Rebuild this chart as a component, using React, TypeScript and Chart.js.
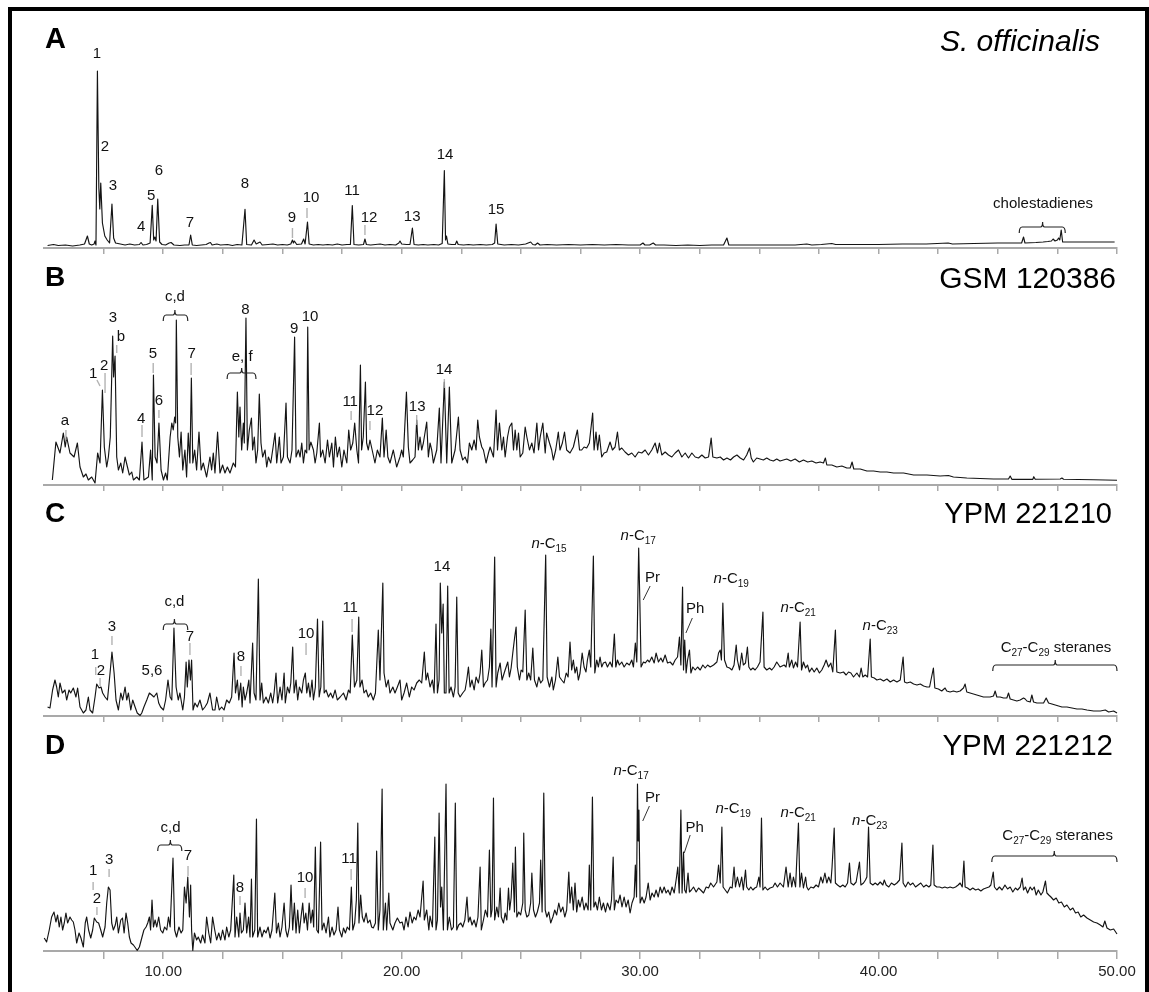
import { useEffect, useRef } from "react";
import { Chart, registerables } from "chart.js";

Chart.register(...registerables);

const FONT = '"Liberation Sans", Arial, Helvetica, sans-serif';
const AXIS = "#a9a9a9";
const X_MIN = 5;
const X_MAX = 50;
const X_STEP = 2.5;
const Y_TOP = 226;

type Pt = [number, number];
// [text, retention time, height]
type Note = [string, number, number];
// [t1, y1, t2, y2]
type Lead = [number, number, number, number];
// [t start, t end, height, t centre]
type Brace = [number, number, number, number];

// ---- A: S. officinalis (retention time in min, detector response) ----
const traceA: Pt[] = [
  [5.15, 2.5], [5.4, 3.5], [5.6, 2.5], [5.9, 3], [6.2, 2], [6.5, 3], [6.7, 4], [6.82, 12], [6.9, 4], [7.0, 3], [7.1, 4], [7.14, 7], [7.18, 3],
  [7.24, 177], [7.3, 60], [7.34, 39], [7.38, 65], [7.45, 25], [7.55, 12], [7.65, 8], [7.75, 5], [7.85, 44], [7.92, 10], [8.0, 5], [8.2, 4],
  [8.4, 3], [8.6, 4], [8.8, 3], [9.0, 3.5], [9.07, 5.5], [9.15, 3], [9.3, 3.5], [9.45, 5], [9.54, 42.6], [9.6, 8], [9.65, 11], [9.7, 7],
  [9.77, 49], [9.85, 6], [9.95, 3.5], [10.1, 3], [10.25, 5], [10.33, 5.5], [10.45, 3], [10.7, 2.5], [10.9, 3], [11.08, 3], [11.15, 13],
  [11.22, 3], [11.4, 2.5], [11.6, 3], [11.8, 3.5], [11.92, 5], [11.98, 5.5], [12.05, 3], [12.25, 4], [12.4, 3], [12.7, 3.5], [12.9, 2.5],
  [13.1, 3.5], [13.3, 3], [13.43, 38.7], [13.5, 3.5], [13.7, 3], [13.81, 8], [13.9, 4], [14.06, 6], [14.15, 3], [14.4, 3.5], [14.6, 4],
  [14.8, 3], [15.0, 3.5], [15.2, 3], [15.35, 4], [15.42, 8], [15.46, 5], [15.5, 7], [15.6, 3.5], [15.8, 4], [15.89, 9], [15.95, 4],
  [16.05, 26], [16.12, 4], [16.3, 3], [16.5, 3.5], [16.7, 3], [16.9, 3.5], [17.1, 3], [17.3, 4], [17.5, 3], [17.7, 3.5], [17.85, 3.5],
  [17.93, 42.5], [18.0, 3.5], [18.2, 3], [18.4, 3.5], [18.46, 9], [18.52, 3.5], [18.7, 3], [18.9, 3.5], [19.1, 4], [19.3, 3], [19.5, 3.5],
  [19.75, 3], [19.88, 5], [19.93, 7], [20.0, 4], [20.2, 3.5], [20.35, 3.5], [20.45, 20], [20.52, 3.5], [20.7, 3], [20.9, 3.5], [21.1, 3],
  [21.35, 3.5], [21.55, 3], [21.7, 4.5], [21.79, 77.5], [21.84, 8], [21.88, 12], [21.94, 4], [22.1, 3.5], [22.25, 3.5], [22.31, 7],
  [22.37, 3.5], [22.6, 3], [22.8, 3.5], [23.0, 3], [23.3, 3.5], [23.55, 3], [23.8, 3.5], [23.9, 5], [23.96, 24], [24.03, 4], [24.3, 3],
  [24.6, 3.5], [24.9, 3], [25.2, 4], [25.41, 6], [25.5, 3.5], [25.6, 3], [25.7, 5], [25.8, 3], [26.1, 3.5], [26.5, 3], [27.0, 3.5],
  [27.5, 3], [28.0, 3.5], [28.5, 3], [29.0, 3.5], [29.5, 3], [30.0, 3], [30.12, 5], [30.2, 3], [30.4, 3], [30.55, 5], [30.65, 3],
  [31.0, 3], [31.5, 2.5], [32.0, 3], [32.5, 2.5], [33.0, 3], [33.5, 3], [33.64, 10], [33.72, 3], [34.2, 3], [35.0, 3], [35.5, 3],
  [36.0, 3], [36.5, 3], [36.99, 4], [37.2, 3], [37.6, 3.5], [38.04, 4.5], [38.2, 3.5], [39.0, 3.5], [40.0, 3.5], [41.0, 4], [42.0, 4],
  [42.92, 5], [43.1, 4], [44.0, 4.5], [45.0, 5], [46.0, 5], [46.08, 11], [46.14, 5], [46.6, 5.5], [46.9, 6], [47.1, 6.5], [47.25, 7],
  [47.32, 9], [47.4, 7], [47.5, 8], [47.55, 10], [47.6, 8], [47.66, 18], [47.72, 6], [48.0, 6], [49.0, 6], [49.9, 6],
];

// ---- B: GSM 120386 ----
const traceB: Pt[] = [
  [5.35, 5], [5.5, 43], [5.67, 32], [5.81, 52], [5.89, 38], [5.95, 48], [6.09, 32], [6.26, 28], [6.4, 42], [6.51, 18], [6.65, 8],
  [6.76, 11], [6.86, 5], [7.0, 8], [7.14, 2], [7.25, 32], [7.35, 22], [7.45, 95], [7.53, 38], [7.63, 18], [7.7, 28], [7.78, 48],
  [7.88, 149], [7.92, 108], [7.98, 129], [8.05, 28], [8.12, 15], [8.22, 22], [8.3, 12], [8.4, 28], [8.5, 18], [8.58, 10], [8.68, 13],
  [8.75, 5], [8.89, 8], [9.0, 5], [9.11, 43], [9.19, 5], [9.38, 8], [9.47, 35], [9.54, 5], [9.59, 110], [9.66, 28], [9.74, 22],
  [9.82, 62], [9.91, 15], [10.01, 5], [10.1, 12], [10.17, 5], [10.29, 48], [10.36, 62], [10.42, 55], [10.48, 68], [10.52, 62],
  [10.55, 165], [10.61, 48], [10.68, 28], [10.75, 53], [10.82, 15], [10.91, 35], [10.98, 8], [11.05, 52], [11.12, 22], [11.18, 107],
  [11.24, 22], [11.32, 35], [11.4, 15], [11.5, 53], [11.59, 15], [11.68, 22], [11.75, 15], [11.82, 8], [11.96, 28], [12.03, 15],
  [12.1, 32], [12.17, 12], [12.28, 53], [12.38, 12], [12.49, 20], [12.59, 12], [12.69, 18], [12.8, 12], [12.94, 22], [13.03, 18],
  [13.11, 93], [13.17, 48], [13.22, 78], [13.29, 35], [13.36, 62], [13.4, 42], [13.47, 167], [13.53, 35], [13.61, 55], [13.7, 67],
  [13.75, 35], [13.82, 48], [13.89, 22], [13.96, 35], [14.03, 91], [14.1, 42], [14.17, 28], [14.27, 35], [14.34, 18], [14.41, 28],
  [14.51, 22], [14.59, 35], [14.69, 52], [14.76, 22], [14.87, 48], [14.94, 22], [15.04, 28], [15.15, 82], [15.21, 28], [15.32, 22],
  [15.4, 35], [15.51, 148], [15.57, 28], [15.67, 35], [15.74, 28], [15.81, 42], [15.88, 22], [15.95, 35], [16.02, 32], [16.06, 158],
  [16.12, 35], [16.19, 43], [16.3, 35], [16.37, 22], [16.44, 32], [16.55, 62], [16.6, 28], [16.69, 35], [16.79, 22], [16.89, 45],
  [16.97, 28], [17.07, 42], [17.14, 18], [17.22, 48], [17.3, 28], [17.39, 38], [17.49, 18], [17.58, 35], [17.7, 22], [17.78, 55],
  [17.86, 35], [17.95, 42], [18.03, 62], [18.12, 35], [18.19, 22], [18.27, 120], [18.32, 35], [18.39, 48], [18.48, 103], [18.53, 42],
  [18.6, 35], [18.67, 45], [18.79, 32], [18.88, 22], [18.98, 35], [19.09, 28], [19.19, 67], [19.26, 28], [19.35, 55], [19.42, 28],
  [19.51, 22], [19.65, 35], [19.79, 18], [19.93, 28], [20.0, 35], [20.07, 28], [20.2, 93], [20.28, 38], [20.35, 22], [20.46, 25],
  [20.56, 28], [20.63, 65], [20.7, 35], [20.77, 48], [20.84, 35], [20.91, 42], [21.05, 63], [21.12, 28], [21.19, 42], [21.26, 35],
  [21.33, 22], [21.47, 35], [21.58, 77], [21.65, 22], [21.79, 103], [21.89, 22], [22.0, 98], [22.1, 22], [22.24, 35], [22.38, 68],
  [22.45, 35], [22.56, 25], [22.66, 28], [22.76, 22], [22.84, 42], [22.94, 35], [23.04, 45], [23.12, 35], [23.19, 65], [23.26, 48],
  [23.36, 38], [23.43, 35], [23.54, 22], [23.64, 32], [23.71, 38], [23.85, 28], [23.96, 75], [24.02, 35], [24.1, 62], [24.2, 35],
  [24.27, 48], [24.34, 28], [24.44, 48], [24.52, 58], [24.62, 62], [24.69, 35], [24.76, 55], [24.83, 35], [24.9, 52], [24.97, 28],
  [25.08, 32], [25.18, 58], [25.25, 48], [25.36, 35], [25.46, 42], [25.55, 32], [25.67, 62], [25.74, 35], [25.81, 48], [25.92, 62],
  [26.02, 32], [26.08, 52], [26.2, 42], [26.29, 35], [26.36, 25], [26.46, 35], [26.57, 53], [26.64, 35], [26.74, 42], [26.83, 53],
  [26.92, 35], [27.06, 32], [27.2, 38], [27.27, 45], [27.37, 55], [27.46, 35], [27.55, 35], [27.65, 38], [27.76, 37], [27.87, 42],
  [28.01, 72], [28.07, 35], [28.15, 53], [28.22, 35], [28.29, 50], [28.39, 28], [28.49, 32], [28.6, 33], [28.74, 43], [28.84, 35],
  [28.95, 38], [29.05, 53], [29.13, 35], [29.23, 37], [29.37, 33], [29.51, 30], [29.65, 32], [29.79, 28], [29.93, 33], [30.07, 32],
  [30.21, 35], [30.35, 30], [30.49, 35], [30.63, 42], [30.73, 32], [30.81, 42], [30.91, 30], [31.05, 33], [31.19, 30], [31.33, 28],
  [31.47, 32], [31.61, 35], [31.75, 28], [31.89, 32], [32.03, 27], [32.17, 32], [32.31, 28], [32.45, 27], [32.59, 30], [32.73, 27],
  [32.87, 28], [32.98, 47], [33.05, 28], [33.22, 27], [33.36, 28], [33.5, 25], [33.64, 27], [33.79, 25], [33.92, 28], [34.06, 30],
  [34.2, 27], [34.34, 25], [34.47, 30], [34.59, 37], [34.66, 27], [34.75, 23], [34.89, 27], [35.03, 26], [35.17, 25], [35.31, 27],
  [35.45, 25], [35.59, 24], [35.73, 26], [35.87, 24], [36.01, 25], [36.15, 26], [36.32, 24], [36.5, 26], [36.68, 23], [36.85, 25],
  [37.03, 23], [37.2, 24], [37.38, 22], [37.55, 23], [37.69, 22], [37.77, 27], [37.83, 20], [38.04, 20], [38.25, 18], [38.46, 19],
  [38.67, 17], [38.81, 17], [38.89, 23], [38.96, 16], [39.23, 16], [39.51, 14], [39.79, 14], [40.07, 13], [40.35, 13], [40.63, 12],
  [41.05, 12], [41.47, 10], [42.03, 10], [42.58, 9], [42.93, 9.5], [43.14, 8], [43.7, 7], [44.26, 6.5], [44.82, 6], [45.45, 6],
  [45.52, 9], [45.59, 5.7], [46.22, 5.7], [46.47, 5.7], [46.51, 8.3], [46.57, 5.7], [47.62, 6], [47.69, 7], [47.76, 5.7], [49.02, 5.3],
  [50.0, 4.8],
];

// ---- C: YPM 221210 ----
const traceC: Pt[] = [
  [5.15, 9], [5.25, 8], [5.36, 26], [5.46, 36], [5.53, 29], [5.6, 19], [5.67, 33], [5.77, 23], [5.88, 26], [5.95, 16], [6.05, 26],
  [6.12, 23], [6.23, 28], [6.34, 19], [6.41, 28], [6.51, 9], [6.58, 6], [6.65, 3], [6.76, 6], [6.86, 19], [6.93, 6], [7.04, 3],
  [7.14, 19], [7.21, 32], [7.31, 28], [7.39, 29], [7.46, 23], [7.56, 19], [7.66, 16], [7.77, 43], [7.85, 64], [7.94, 43], [8.02, 16],
  [8.12, 6], [8.22, 23], [8.3, 16], [8.4, 29], [8.47, 16], [8.54, 23], [8.64, 6], [8.72, 16], [8.82, 9], [8.91, 3], [9.03, 0.5],
  [9.1, 3], [9.19, 9], [9.31, 16], [9.42, 23], [9.52, 21], [9.61, 19], [9.73, 23], [9.81, 13], [9.89, 9], [10.01, 6], [10.1, 16],
  [10.2, 36], [10.29, 19], [10.36, 16], [10.45, 88], [10.54, 29], [10.63, 16], [10.7, 23], [10.82, 6], [10.89, 19], [10.96, 54],
  [11.01, 29], [11.08, 56], [11.14, 36], [11.19, 56], [11.25, 6], [11.33, 13], [11.43, 9], [11.54, 16], [11.65, 6], [11.75, 9],
  [11.85, 13], [11.96, 23], [12.07, 6], [12.17, 6], [12.24, 19], [12.35, 6], [12.45, 9], [12.55, 6], [12.66, 16], [12.77, 13],
  [12.87, 19], [12.97, 63], [13.03, 23], [13.11, 36], [13.17, 16], [13.25, 33], [13.31, 9], [13.36, 29], [13.43, 16], [13.5, 23],
  [13.59, 36], [13.64, 13], [13.75, 73], [13.81, 23], [13.89, 16], [13.99, 137], [14.06, 16], [14.13, 33], [14.2, 13], [14.31, 19],
  [14.41, 13], [14.51, 23], [14.59, 13], [14.65, 23], [14.73, 43], [14.8, 13], [14.9, 29], [14.98, 16], [15.07, 43], [15.12, 13],
  [15.21, 29], [15.29, 23], [15.35, 33], [15.43, 69], [15.49, 23], [15.57, 36], [15.64, 16], [15.71, 29], [15.81, 23], [15.88, 36],
  [15.96, 43], [16.02, 23], [16.09, 33], [16.16, 19], [16.24, 36], [16.3, 16], [16.38, 29], [16.47, 97], [16.54, 19], [16.61, 29],
  [16.69, 95], [16.75, 23], [16.83, 26], [16.93, 19], [17.02, 23], [17.11, 18], [17.21, 26], [17.3, 16], [17.42, 19], [17.56, 23],
  [17.67, 16], [17.77, 26], [17.84, 23], [17.93, 81], [18.02, 29], [18.12, 36], [18.2, 99], [18.25, 29], [18.34, 36], [18.42, 23],
  [18.51, 26], [18.6, 19], [18.7, 23], [18.81, 16], [18.9, 23], [19.02, 86], [19.09, 36], [19.21, 133], [19.26, 43], [19.35, 29],
  [19.44, 36], [19.51, 23], [19.63, 29], [19.72, 23], [19.82, 29], [19.93, 36], [20.0, 16], [20.1, 23], [20.21, 33], [20.32, 19],
  [20.42, 29], [20.52, 26], [20.63, 33], [20.74, 36], [20.84, 33], [20.95, 64], [21.02, 36], [21.09, 43], [21.19, 29], [21.29, 36],
  [21.36, 23], [21.44, 92], [21.5, 23], [21.57, 36], [21.62, 133], [21.68, 83], [21.74, 112], [21.79, 23], [21.86, 23], [21.93, 130],
  [21.99, 23], [22.07, 29], [22.17, 19], [22.24, 29], [22.31, 119], [22.37, 23], [22.45, 19], [22.56, 23], [22.66, 26], [22.73, 36],
  [22.8, 49], [22.87, 29], [22.95, 36], [23.04, 26], [23.12, 39], [23.22, 33], [23.29, 43], [23.36, 66], [23.43, 29], [23.5, 33],
  [23.6, 36], [23.68, 49], [23.74, 87], [23.79, 29], [23.9, 159], [23.96, 29], [24.03, 43], [24.13, 53], [24.21, 36], [24.3, 43],
  [24.38, 49], [24.45, 54], [24.52, 39], [24.59, 48], [24.66, 63], [24.74, 79], [24.8, 89], [24.85, 49], [24.94, 36], [25.01, 46],
  [25.08, 44], [25.18, 106], [25.25, 36], [25.33, 43], [25.41, 36], [25.5, 68], [25.57, 36], [25.67, 29], [25.75, 39], [25.83, 33],
  [25.92, 36], [26.04, 161], [26.1, 39], [26.2, 29], [26.3, 39], [26.36, 26], [26.45, 36], [26.55, 59], [26.62, 39], [26.71, 36],
  [26.81, 33], [26.9, 43], [26.98, 39], [27.06, 74], [27.13, 46], [27.2, 56], [27.27, 43], [27.34, 49], [27.41, 36], [27.48, 43],
  [27.57, 63], [27.65, 49], [27.73, 44], [27.79, 56], [27.87, 66], [27.93, 49], [28.04, 160], [28.1, 43], [28.18, 56], [28.25, 49],
  [28.32, 59], [28.39, 49], [28.46, 53], [28.55, 54], [28.63, 49], [28.74, 54], [28.83, 49], [28.92, 82], [28.98, 49], [29.05, 56],
  [29.13, 51], [29.23, 54], [29.33, 49], [29.44, 53], [29.55, 51], [29.65, 56], [29.72, 49], [29.8, 73], [29.86, 54], [29.94, 168],
  [29.99, 113], [30.04, 49], [30.14, 54], [30.22, 53], [30.31, 56], [30.39, 54], [30.49, 59], [30.59, 53], [30.67, 63], [30.77, 54],
  [30.87, 58], [30.95, 54], [31.05, 61], [31.15, 53], [31.26, 54], [31.37, 51], [31.47, 56], [31.57, 59], [31.65, 79], [31.71, 51],
  [31.78, 129], [31.82, 46], [31.87, 76], [31.93, 43], [31.99, 56], [32.07, 66], [32.13, 43], [32.21, 49], [32.31, 46], [32.41, 49],
  [32.52, 46], [32.63, 51], [32.73, 48], [32.83, 51], [32.94, 49], [33.08, 51], [33.22, 54], [33.29, 63], [33.36, 66], [33.41, 56],
  [33.47, 113], [33.54, 56], [33.64, 49], [33.75, 48], [33.85, 46], [33.94, 51], [34.03, 71], [34.08, 56], [34.17, 46], [34.26, 63],
  [34.33, 51], [34.42, 53], [34.5, 69], [34.56, 49], [34.64, 46], [34.73, 48], [34.82, 46], [34.92, 49], [35.03, 54], [35.15, 104],
  [35.2, 49], [35.31, 46], [35.43, 48], [35.52, 46], [35.62, 49], [35.73, 54], [35.87, 49], [36.04, 51], [36.12, 49], [36.21, 63],
  [36.26, 49], [36.36, 56], [36.43, 48], [36.52, 54], [36.6, 49], [36.71, 94], [36.77, 46], [36.85, 54], [36.94, 48], [37.02, 51],
  [37.1, 44], [37.2, 48], [37.3, 44], [37.41, 48], [37.52, 43], [37.62, 46], [37.72, 51], [37.8, 56], [37.9, 49], [38.0, 53],
  [38.08, 44], [38.19, 86], [38.25, 44], [38.39, 43], [38.53, 44], [38.64, 41], [38.74, 44], [38.84, 43], [38.95, 39], [39.09, 43],
  [39.2, 39], [39.27, 48], [39.34, 39], [39.44, 41], [39.54, 39], [39.65, 77], [39.7, 39], [39.82, 38], [39.93, 36], [40.07, 37],
  [40.21, 35], [40.35, 37], [40.49, 34], [40.63, 36], [40.77, 34], [40.91, 36], [41.03, 59], [41.09, 34], [41.19, 33], [41.33, 34],
  [41.47, 32], [41.61, 31], [41.75, 32], [41.89, 30], [42.03, 29], [42.14, 29], [42.3, 48], [42.36, 28], [42.51, 27], [42.65, 25],
  [42.79, 28], [42.86, 25], [43.0, 24], [43.14, 25], [43.28, 24], [43.42, 25], [43.56, 28], [43.63, 32], [43.7, 24], [43.84, 23],
  [43.98, 22], [44.12, 21], [44.26, 20], [44.4, 19], [44.54, 19], [44.68, 19], [44.82, 20], [44.89, 25], [44.96, 19], [45.1, 19],
  [45.24, 18], [45.38, 18], [45.45, 23], [45.52, 17], [45.66, 16], [45.8, 15], [45.94, 16], [46.08, 18], [46.15, 17], [46.22, 15],
  [46.36, 14], [46.43, 21], [46.5, 14], [46.64, 13], [46.78, 13], [46.92, 13], [47.03, 18], [47.13, 13], [47.27, 12], [47.41, 11],
  [47.55, 10], [47.69, 9], [47.9, 9], [48.11, 8], [48.32, 7], [48.53, 7], [48.74, 6], [49.02, 5], [49.3, 5], [49.51, 6], [49.65, 4],
  [49.86, 5], [50.0, 3],
];

// ---- D: YPM 221212 ----
const traceD: Pt[] = [
  [5.01, 13], [5.11, 9], [5.22, 21], [5.32, 34], [5.42, 39], [5.5, 29], [5.57, 36], [5.64, 24], [5.71, 34], [5.78, 21], [5.85, 28],
  [5.92, 38], [5.99, 28], [6.09, 34], [6.16, 31], [6.23, 29], [6.3, 21], [6.37, 8], [6.47, 18], [6.55, 13], [6.65, 4], [6.73, 28],
  [6.79, 34], [6.87, 21], [6.96, 13], [7.04, 21], [7.11, 33], [7.21, 29], [7.29, 28], [7.38, 21], [7.46, 14], [7.56, 24], [7.63, 48],
  [7.7, 64], [7.77, 61], [7.84, 28], [7.91, 21], [7.99, 26], [8.05, 34], [8.12, 18], [8.22, 31], [8.29, 33], [8.36, 18], [8.44, 38],
  [8.51, 28], [8.58, 14], [8.65, 8], [8.75, 6], [8.84, 3], [8.91, 0.5], [9.0, 4], [9.1, 13], [9.19, 21], [9.28, 24], [9.35, 28],
  [9.42, 34], [9.47, 21], [9.53, 51], [9.59, 24], [9.66, 31], [9.73, 24], [9.81, 34], [9.89, 21], [9.98, 18], [10.06, 24], [10.15, 21],
  [10.22, 34], [10.29, 24], [10.41, 93], [10.48, 21], [10.56, 14], [10.66, 24], [10.75, 18], [10.82, 21], [10.89, 64], [10.96, 48],
  [11.03, 74], [11.1, 34], [11.15, 66], [11.19, 21], [11.24, 0.5], [11.31, 18], [11.4, 11], [11.47, 14], [11.57, 8], [11.65, 16],
  [11.75, 8], [11.82, 34], [11.91, 18], [11.99, 8], [12.07, 34], [12.16, 21], [12.24, 11], [12.33, 18], [12.41, 11], [12.49, 21],
  [12.59, 11], [12.66, 24], [12.75, 14], [12.83, 21], [12.96, 76], [13.01, 14], [13.08, 34], [13.17, 14], [13.22, 38], [13.28, 18],
  [13.36, 21], [13.43, 48], [13.5, 18], [13.58, 34], [13.64, 14], [13.7, 72], [13.75, 14], [13.84, 21], [13.91, 132], [13.96, 14],
  [14.06, 24], [14.14, 14], [14.23, 21], [14.31, 18], [14.4, 24], [14.48, 13], [14.56, 21], [14.68, 58], [14.75, 18], [14.83, 28],
  [14.9, 14], [14.98, 24], [15.07, 48], [15.14, 21], [15.21, 14], [15.29, 24], [15.36, 66], [15.43, 21], [15.5, 48], [15.57, 18],
  [15.64, 41], [15.71, 18], [15.78, 34], [15.85, 48], [15.91, 28], [15.98, 38], [16.05, 21], [16.12, 48], [16.19, 28], [16.26, 41],
  [16.31, 24], [16.38, 104], [16.44, 21], [16.51, 18], [16.6, 109], [16.66, 21], [16.74, 28], [16.83, 18], [16.93, 34], [16.99, 14],
  [17.08, 24], [17.16, 16], [17.25, 21], [17.33, 44], [17.39, 21], [17.49, 14], [17.56, 23], [17.64, 18], [17.72, 24], [17.81, 21],
  [17.89, 64], [17.95, 21], [18.03, 28], [18.1, 51], [18.16, 128], [18.21, 28], [18.28, 56], [18.35, 34], [18.42, 29], [18.51, 38],
  [18.58, 28], [18.67, 31], [18.74, 24], [18.81, 23], [18.9, 28], [18.95, 100], [19.02, 21], [19.09, 41], [19.18, 162], [19.23, 21],
  [19.32, 48], [19.37, 21], [19.46, 58], [19.51, 28], [19.63, 21], [19.72, 28], [19.82, 33], [19.93, 28], [20.02, 29], [20.1, 21],
  [20.18, 34], [20.27, 24], [20.35, 39], [20.44, 28], [20.52, 34], [20.6, 31], [20.69, 41], [20.77, 34], [20.9, 70], [20.95, 31],
  [21.05, 41], [21.14, 21], [21.19, 35], [21.29, 24], [21.39, 114], [21.44, 21], [21.5, 31], [21.57, 138], [21.63, 44], [21.68, 64],
  [21.75, 21], [21.86, 167], [21.92, 21], [22.0, 34], [22.09, 21], [22.17, 24], [22.25, 148], [22.31, 21], [22.39, 26], [22.48, 28],
  [22.56, 24], [22.65, 31], [22.74, 54], [22.8, 29], [22.87, 34], [22.95, 26], [23.04, 31], [23.12, 24], [23.2, 34], [23.29, 84],
  [23.34, 21], [23.43, 31], [23.51, 41], [23.6, 34], [23.68, 101], [23.74, 34], [23.79, 41], [23.85, 153], [23.9, 31], [23.99, 44],
  [24.06, 34], [24.13, 63], [24.18, 34], [24.27, 28], [24.34, 38], [24.41, 31], [24.48, 63], [24.53, 41], [24.59, 53], [24.66, 88],
  [24.73, 39], [24.77, 104], [24.83, 34], [24.91, 39], [24.99, 36], [25.08, 48], [25.12, 118], [25.18, 41], [25.25, 34], [25.33, 36],
  [25.41, 48], [25.46, 78], [25.53, 41], [25.61, 34], [25.69, 39], [25.78, 48], [25.83, 91], [25.89, 39], [25.96, 158], [26.02, 41],
  [26.09, 34], [26.17, 39], [26.25, 28], [26.34, 34], [26.42, 41], [26.5, 36], [26.59, 48], [26.67, 39], [26.76, 44], [26.84, 34],
  [26.92, 41], [27.01, 79], [27.06, 48], [27.13, 64], [27.2, 41], [27.27, 68], [27.34, 39], [27.41, 51], [27.48, 44], [27.57, 54],
  [27.65, 41], [27.73, 48], [27.82, 41], [27.87, 86], [27.93, 41], [28.0, 154], [28.06, 44], [28.13, 49], [28.21, 41], [28.29, 54],
  [28.38, 41], [28.46, 48], [28.55, 39], [28.63, 48], [28.74, 41], [28.8, 51], [28.87, 94], [28.92, 41], [28.99, 51], [29.08, 48],
  [29.16, 56], [29.24, 44], [29.33, 54], [29.41, 44], [29.5, 51], [29.58, 38], [29.66, 48], [29.75, 54], [29.8, 86], [29.85, 54],
  [29.89, 167], [29.92, 110], [29.95, 141], [30.0, 48], [30.08, 54], [30.17, 48], [30.25, 54], [30.34, 68], [30.42, 51], [30.5, 58],
  [30.59, 54], [30.67, 61], [30.76, 54], [30.84, 64], [30.92, 58], [31.01, 64], [31.09, 58], [31.17, 61], [31.26, 56], [31.34, 64],
  [31.43, 58], [31.51, 71], [31.58, 84], [31.64, 58], [31.71, 141], [31.76, 58], [31.82, 99], [31.87, 61], [31.93, 58], [32.01, 78],
  [32.07, 59], [32.15, 61], [32.24, 64], [32.35, 59], [32.45, 63], [32.54, 61], [32.66, 58], [32.77, 64], [32.87, 63], [32.96, 68],
  [33.08, 64], [33.22, 69], [33.29, 86], [33.36, 68], [33.43, 124], [33.48, 64], [33.57, 61], [33.66, 58], [33.78, 64], [33.86, 63],
  [33.94, 84], [34.0, 64], [34.08, 74], [34.17, 64], [34.26, 74], [34.33, 61], [34.42, 81], [34.47, 64], [34.56, 61], [34.64, 64],
  [34.73, 61], [34.81, 63], [34.89, 64], [34.98, 74], [35.03, 64], [35.09, 133], [35.15, 61], [35.24, 64], [35.34, 61], [35.45, 63],
  [35.57, 64], [35.66, 68], [35.76, 64], [35.87, 68], [36.01, 64], [36.12, 84], [36.21, 64], [36.29, 78], [36.36, 64], [36.43, 74],
  [36.52, 64], [36.64, 128], [36.7, 64], [36.77, 78], [36.85, 63], [36.94, 74], [36.99, 64], [37.06, 61], [37.16, 64], [37.27, 63],
  [37.38, 66], [37.48, 64], [37.58, 74], [37.66, 68], [37.75, 78], [37.83, 68], [37.91, 74], [38.0, 68], [38.05, 84], [38.14, 123],
  [38.19, 68], [38.28, 66], [38.39, 64], [38.5, 66], [38.6, 64], [38.7, 68], [38.78, 88], [38.84, 68], [38.95, 66], [39.06, 69],
  [39.2, 89], [39.26, 66], [39.37, 68], [39.45, 71], [39.51, 74], [39.58, 124], [39.65, 68], [39.76, 66], [39.86, 68], [39.96, 66],
  [40.07, 69], [40.18, 66], [40.24, 71], [40.32, 66], [40.43, 64], [40.54, 68], [40.66, 66], [40.77, 68], [40.88, 71], [40.98, 108],
  [41.03, 68], [41.13, 64], [41.24, 69], [41.33, 66], [41.44, 68], [41.55, 64], [41.66, 66], [41.77, 68], [41.89, 64], [42.0, 66],
  [42.11, 64], [42.19, 66], [42.28, 106], [42.33, 66], [42.44, 64], [42.56, 64], [42.67, 63], [42.78, 64], [42.89, 63], [43.0, 64],
  [43.12, 63], [43.23, 64], [43.34, 66], [43.42, 68], [43.51, 64], [43.58, 90], [43.63, 64], [43.73, 63], [43.84, 61], [43.95, 63],
  [44.07, 61], [44.18, 62], [44.29, 60], [44.4, 62], [44.51, 63], [44.63, 64], [44.71, 66], [44.81, 79], [44.86, 64], [44.96, 61],
  [45.07, 64], [45.18, 61], [45.3, 66], [45.41, 62], [45.52, 64], [45.63, 59], [45.74, 63], [45.83, 61], [45.94, 64], [46.02, 73],
  [46.08, 61], [46.16, 64], [46.25, 58], [46.36, 64], [46.44, 61], [46.53, 64], [46.61, 56], [46.7, 61], [46.81, 56], [46.89, 59],
  [47.0, 70], [47.06, 58], [47.14, 56], [47.23, 54], [47.34, 51], [47.45, 53], [47.56, 48], [47.67, 49], [47.79, 44], [47.9, 46],
  [48.04, 41], [48.15, 43], [48.26, 38], [48.37, 39], [48.48, 34], [48.6, 36], [48.74, 33], [48.88, 31], [49.02, 29], [49.16, 28],
  [49.3, 26], [49.41, 24], [49.49, 30], [49.58, 23], [49.72, 21], [49.86, 22], [50.0, 17],
];

// ---- peak labels, leader lines and brackets (retention time, height) ----
const notesA: Note[] = [
  ["1", 7.22, 195], ["2", 7.56, 102], ["3", 7.89, 63], ["4", 9.07, 22], ["5", 9.49, 53], ["6", 9.82, 78], ["7", 11.12, 26],
  ["8", 13.43, 65], ["9", 15.4, 31], ["10", 16.2, 51], ["11", 17.92, 58], ["12", 18.63, 31], ["13", 20.44, 32], ["14", 21.82, 94],
  ["15", 23.96, 39], ["cholestadienes", 46.9, 45],
];
const leadsA: Lead[] = [[15.42, 20, 15.42, 10], [16.03, 40, 16.03, 30], [18.46, 23, 18.46, 13]];
const pointersA: Lead[] = [];
const bracesA: Brace[] = [[45.9, 47.83, 21, 46.88]];

const notesB: Note[] = [
  ["a", 5.88, 65], ["1", 7.06, 112], ["2", 7.52, 120], ["3", 7.89, 168], ["b", 8.23, 149], ["4", 9.07, 67], ["5", 9.57, 132],
  ["6", 9.82, 85], ["c,d", 10.49, 189], ["7", 11.19, 132], ["e, f", 13.31, 129], ["8", 13.45, 176], ["9", 15.49, 157],
  ["10", 16.16, 169], ["11", 17.84, 84], ["12", 18.88, 75], ["13", 20.65, 79], ["14", 21.78, 116],
];
const leadsB: Lead[] = [
  [5.92, 55, 5.92, 45], [7.22, 105, 7.35, 99], [7.56, 112, 7.56, 92], [8.05, 140, 8.05, 132], [9.11, 60, 9.11, 48],
  [9.58, 122, 9.58, 112], [9.82, 75, 9.82, 67], [11.17, 122, 11.17, 110], [17.88, 74, 17.88, 65], [18.67, 64, 18.67, 55],
  [20.63, 70, 20.63, 60], [21.79, 106, 21.79, 97],
];
const pointersB: Lead[] = [];
const bracesB: Brace[] = [[10.0, 11.03, 170, 10.49], [12.68, 13.89, 112, 13.29]];

const notesC: Note[] = [
  ["1", 7.14, 62], ["2", 7.39, 46], ["3", 7.85, 90], ["5,6", 9.53, 46], ["c,d", 10.47, 115], ["7", 11.12, 80], ["8", 13.26, 60],
  ["10", 15.99, 83], ["11", 17.84, 109], ["14", 21.69, 150], ["*n*-C_{15}", 26.18, 173], ["*n*-C_{17}", 29.92, 181],
  ["Pr", 30.52, 139], ["Ph", 32.31, 108], ["*n*-C_{19}", 33.82, 138], ["*n*-C_{21}", 36.63, 109], ["*n*-C_{23}", 40.07, 91],
  ["C_{27}-C_{29} steranes", 47.44, 69],
];
const leadsC: Lead[] = [
  [7.17, 49, 7.17, 41], [7.35, 38, 7.35, 30], [7.85, 80, 7.85, 71], [11.12, 73, 11.12, 61], [13.26, 50, 13.26, 40],
  [15.99, 73, 15.99, 61], [17.92, 97, 17.92, 84],
];
const pointersC: Lead[] = [[30.13, 116, 30.42, 130], [31.92, 83, 32.19, 98]];
const bracesC: Brace[] = [[10.0, 11.03, 92, 10.47], [44.79, 50.0, 51, 47.41]];

const notesD: Note[] = [
  ["1", 7.06, 81], ["2", 7.22, 53], ["3", 7.73, 92], ["c,d", 10.31, 124], ["7", 11.04, 96], ["8", 13.22, 64], ["10", 15.95, 74],
  ["11", 17.79, 93], ["*n*-C_{17}", 29.62, 181], ["Pr", 30.52, 154], ["Ph", 32.29, 124], ["*n*-C_{19}", 33.9, 143],
  ["*n*-C_{21}", 36.63, 139], ["*n*-C_{23}", 39.63, 131], ["C_{27}-C_{29} steranes", 47.51, 116],
];
const leadsD: Lead[] = [
  [7.06, 69, 7.06, 61], [7.22, 44, 7.22, 36], [7.73, 82, 7.73, 74], [11.04, 85, 11.04, 75], [13.22, 55, 13.22, 46],
  [15.95, 63, 15.95, 53], [17.88, 82, 17.88, 71],
];
const pointersD: Lead[] = [[30.11, 130, 30.39, 145], [31.85, 98, 32.1, 116]];
const bracesD: Brace[] = [[9.77, 10.78, 106, 10.3], [44.75, 50.0, 95, 47.37]];

// Splits "*n*-C_{17}" into italic / plain / subscript runs.
function parseRich(s: string) {
  const segs: { t: string; it: boolean; sub: boolean }[] = [];
  let buf = "";
  let it = false;
  let i = 0;
  const flush = () => {
    if (buf) segs.push({ t: buf, it, sub: false });
    buf = "";
  };
  while (i < s.length) {
    const c = s[i];
    if (c === "*") {
      flush();
      it = !it;
      i++;
      continue;
    }
    if (c === "_" && s[i + 1] === "{") {
      flush();
      const j = s.indexOf("}", i);
      segs.push({ t: s.slice(i + 2, j), it, sub: true });
      i = j + 1;
      continue;
    }
    buf += c;
    i++;
  }
  flush();
  return segs;
}

function drawRich(ctx: CanvasRenderingContext2D, text: string, cx: number, cy: number, size: number) {
  const segs = parseRich(text);
  const subSize = Math.round(size * 0.68);
  const fontFor = (s: { it: boolean; sub: boolean }) => `${s.it ? "italic " : ""}${s.sub ? subSize : size}px ${FONT}`;
  let w = 0;
  for (const s of segs) {
    ctx.font = fontFor(s);
    w += ctx.measureText(s.t).width;
  }
  let x = cx - w / 2;
  const base = cy + size * 0.36;
  ctx.fillStyle = "#111";
  ctx.textAlign = "left";
  ctx.textBaseline = "alphabetic";
  for (const s of segs) {
    ctx.font = fontFor(s);
    ctx.fillText(s.t, x, s.sub ? base + size * 0.22 : base);
    x += ctx.measureText(s.t).width;
  }
}

const notesPlugin = {
  id: "peakNotes",
  afterDatasetsDraw(chart: any, _args: any, opts: any) {
    const { ctx } = chart;
    const xs = chart.scales.x;
    const ys = chart.scales.y;
    const px = (t: number) => xs.getPixelForValue(t);
    const py = (v: number) => ys.getPixelForValue(v);
    ctx.save();
    ctx.lineCap = "butt";
    for (const [t1, y1, t2, y2] of opts.leads) {
      ctx.beginPath();
      ctx.strokeStyle = "rgba(165,165,165,0.85)";
      ctx.lineWidth = 1.4;
      ctx.moveTo(px(t1), py(y1));
      ctx.lineTo(px(t2), py(y2));
      ctx.stroke();
    }
    for (const [t1, y1, t2, y2] of opts.pointers) {
      ctx.beginPath();
      ctx.strokeStyle = "#333";
      ctx.lineWidth = 1;
      ctx.moveTo(px(t1), py(y1));
      ctx.lineTo(px(t2), py(y2));
      ctx.stroke();
    }
    const drop = 6;
    const rise = 5;
    for (const [t1, t2, v, tm] of opts.braces) {
      const x1 = px(t1);
      const x2 = px(t2);
      const xm = px(tm);
      const y = py(v);
      ctx.beginPath();
      ctx.strokeStyle = "#222";
      ctx.lineWidth = 1.2;
      ctx.moveTo(x1, y + drop);
      ctx.quadraticCurveTo(x1, y, x1 + 3, y);
      ctx.lineTo(xm - 2, y);
      ctx.quadraticCurveTo(xm, y, xm, y - rise);
      ctx.quadraticCurveTo(xm, y, xm + 2, y);
      ctx.lineTo(x2 - 3, y);
      ctx.quadraticCurveTo(x2, y, x2, y + drop);
      ctx.stroke();
    }
    for (const [text, t, v] of opts.notes) drawRich(ctx, text, px(t), py(v), 15);
    ctx.restore();
  },
};

type PanelProps = {
  top: number;
  trace: Pt[];
  notes: Note[];
  leads: Lead[];
  pointers: Lead[];
  braces: Brace[];
  labelled: boolean;
};

function Panel({ top, trace, notes, leads, pointers, braces, labelled }: PanelProps) {
  const ref = useRef<HTMLCanvasElement>(null);
  const axisH = labelled ? 40 : 8;
  const height = Y_TOP + axisH;
  useEffect(() => {
    const chart = new Chart(ref.current as HTMLCanvasElement, {
      type: "line",
      data: {
        datasets: [
          {
            data: trace.map(([x, y]) => ({ x, y })),
            borderColor: "#141414",
            borderWidth: 1.15,
            borderJoinStyle: "round",
            pointRadius: 0,
            tension: 0,
            fill: false,
            clip: false,
          },
        ],
      },
      options: {
        animation: false,
        responsive: false,
        events: [],
        layout: { padding: { left: 44, right: 32, top: 0, bottom: 0 } },
        plugins: {
          legend: { display: false },
          tooltip: { enabled: false },
          peakNotes: { notes, leads, pointers, braces },
        },
        scales: {
          x: {
            type: "linear",
            min: X_MIN,
            max: X_MAX,
            afterFit: (s: any) => {
              s.height = axisH;
            },
            ticks: {
              display: labelled,
              stepSize: X_STEP,
              autoSkip: false,
              maxRotation: 0,
              padding: 4,
              color: "#222",
              font: { family: FONT, size: 15 },
              callback: (v: any) => (Number(v) % 10 === 0 ? Number(v).toFixed(2) : ""),
            },
            grid: {
              drawOnChartArea: false,
              drawTicks: true,
              tickLength: labelled ? 8 : 6,
              lineWidth: 1.5,
              color: (c: any) => (c.tick && c.tick.value === X_MIN ? "rgba(0,0,0,0)" : AXIS),
            },
            border: { display: true, color: AXIS, width: 2 },
          },
          y: { display: false, min: 0, max: Y_TOP },
        },
      },
      plugins: [notesPlugin],
    } as any);
    return () => chart.destroy();
  }, []);
  return (
    <canvas
      ref={ref}
      width={1149}
      height={height}
      style={{ position: "absolute", left: 0, top, width: 1149, height }}
    />
  );
}

const letterStyle = (top: number, size = 28): any => ({
  position: "absolute",
  left: 45,
  top,
  fontFamily: FONT,
  fontWeight: "bold",
  fontSize: size,
  lineHeight: 1,
  color: "#000",
});

const titleStyle = (top: number, right: number, size: number, italic = false): any => ({
  position: "absolute",
  right,
  top,
  fontFamily: FONT,
  fontSize: size,
  fontStyle: italic ? "italic" : "normal",
  lineHeight: 1,
  color: "#000",
  whiteSpace: "nowrap",
});

export default function App() {
  return (
    <div
      style={{
        position: "absolute",
        left: 0,
        top: 0,
        width: 1149,
        height: 992,
        overflow: "hidden",
        background: "#fff",
      }}
    >
      <div
        style={{
          position: "absolute",
          left: 8,
          top: 7,
          width: 1141,
          height: 1100,
          border: "4px solid #000",
          boxSizing: "border-box",
        }}
      />
      <Panel top={22} trace={traceA} notes={notesA} leads={leadsA} pointers={pointersA} braces={bracesA} labelled={false} />
      <Panel top={259} trace={traceB} notes={notesB} leads={leadsB} pointers={pointersB} braces={bracesB} labelled={false} />
      <Panel top={490} trace={traceC} notes={notesC} leads={leadsC} pointers={pointersC} braces={bracesC} labelled={false} />
      <Panel top={725} trace={traceD} notes={notesD} leads={leadsD} pointers={pointersD} braces={bracesD} labelled={true} />

      <div style={letterStyle(24, 29)}>A</div>
      <div style={letterStyle(263)}>B</div>
      <div style={letterStyle(499)}>C</div>
      <div style={letterStyle(731)}>D</div>

      <div style={titleStyle(26, 49, 30, true)}>S. officinalis</div>
      <div style={titleStyle(263, 33, 30)}>GSM 120386</div>
      <div style={titleStyle(499, 37, 29)}>YPM 221210</div>
      <div style={titleStyle(730, 36, 29.5)}>YPM 221212</div>
    </div>
  );
}
